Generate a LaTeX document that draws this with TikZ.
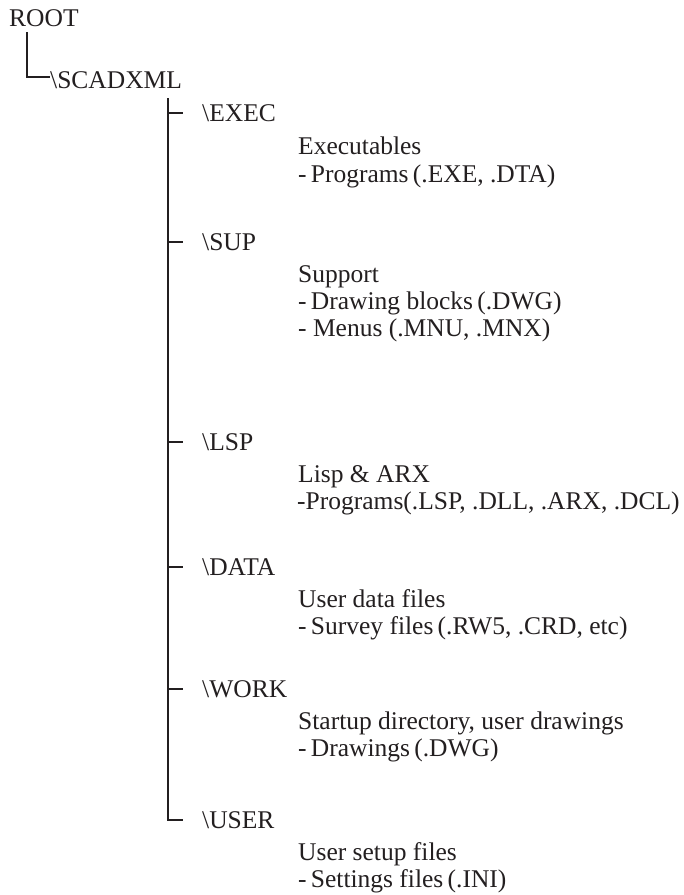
\documentclass[tikz,border=0pt]{standalone}
\usepackage{fontspec}
\setmainfont{Liberation Serif}
\definecolor{ink}{RGB}{35,31,32}
\begin{document}
\begin{tikzpicture}[x=1pt,y=-1pt,
  every node/.style={inner sep=0pt, anchor=base west, text=ink,
    font=\fontsize{25.5}{27}\selectfont},
  link/.style={draw=ink, line width=2.2pt}]
\useasboundingbox (0,0) rectangle (684,895);
% top
\node (root) at (9,26) {ROOT};
\node (scad) at (50,88) {\textbackslash SCADXML};
\coordinate (rootline) at (27,32);
\draw[link] (rootline) |- ([yshift=3pt]scad.west);
% children
\node (exec) at (202,121) {\textbackslash EXEC};
\node (exec1) at (298,154) {Executables};
\node (exec2) at (298,182) {-\,Programs\,(.EXE, .DTA)};
\node (sup) at (202,250) {\textbackslash SUP};
\node (sup1) at (298,282) {Support};
\node (sup2) at (298,309) {-\,Drawing blocks\,(.DWG)};
\node (sup3) at (298,336) {- Menus (.MNU, .MNX)};
\node (lsp) at (202,450) {\textbackslash LSP};
\node (lsp1) at (298,482) {Lisp \& ARX};
\node (lsp2) at (297,509) {-Programs(.LSP, .DLL, .ARX, .DCL)};
\node (data) at (202,575) {\textbackslash DATA};
\node (data1) at (298,607) {User data files};
\node (data2) at (298,634) {-\,Survey files\,(.RW5, .CRD, etc)};
\node (work) at (202,697) {\textbackslash WORK};
\node (work1) at (298,729) {Startup directory, user drawings};
\node (work2) at (298,756) {-\,Drawings\,(.DWG)};
\node (usr) at (202,828) {\textbackslash USER};
\node (usr1) at (298,860) {User setup files};
\node (usr2) at (298,887) {-\,Settings files\,(.INI)};
% trunk
\coordinate (trunk) at (168,98);
\draw[link] (trunk) |- ([xshift=-19pt]usr.west);
\foreach \c in {exec,sup,lsp,data,work}
  \draw[link] (trunk |- \c.west) -- ([xshift=-19pt]\c.west);
\end{tikzpicture}
\end{document}
